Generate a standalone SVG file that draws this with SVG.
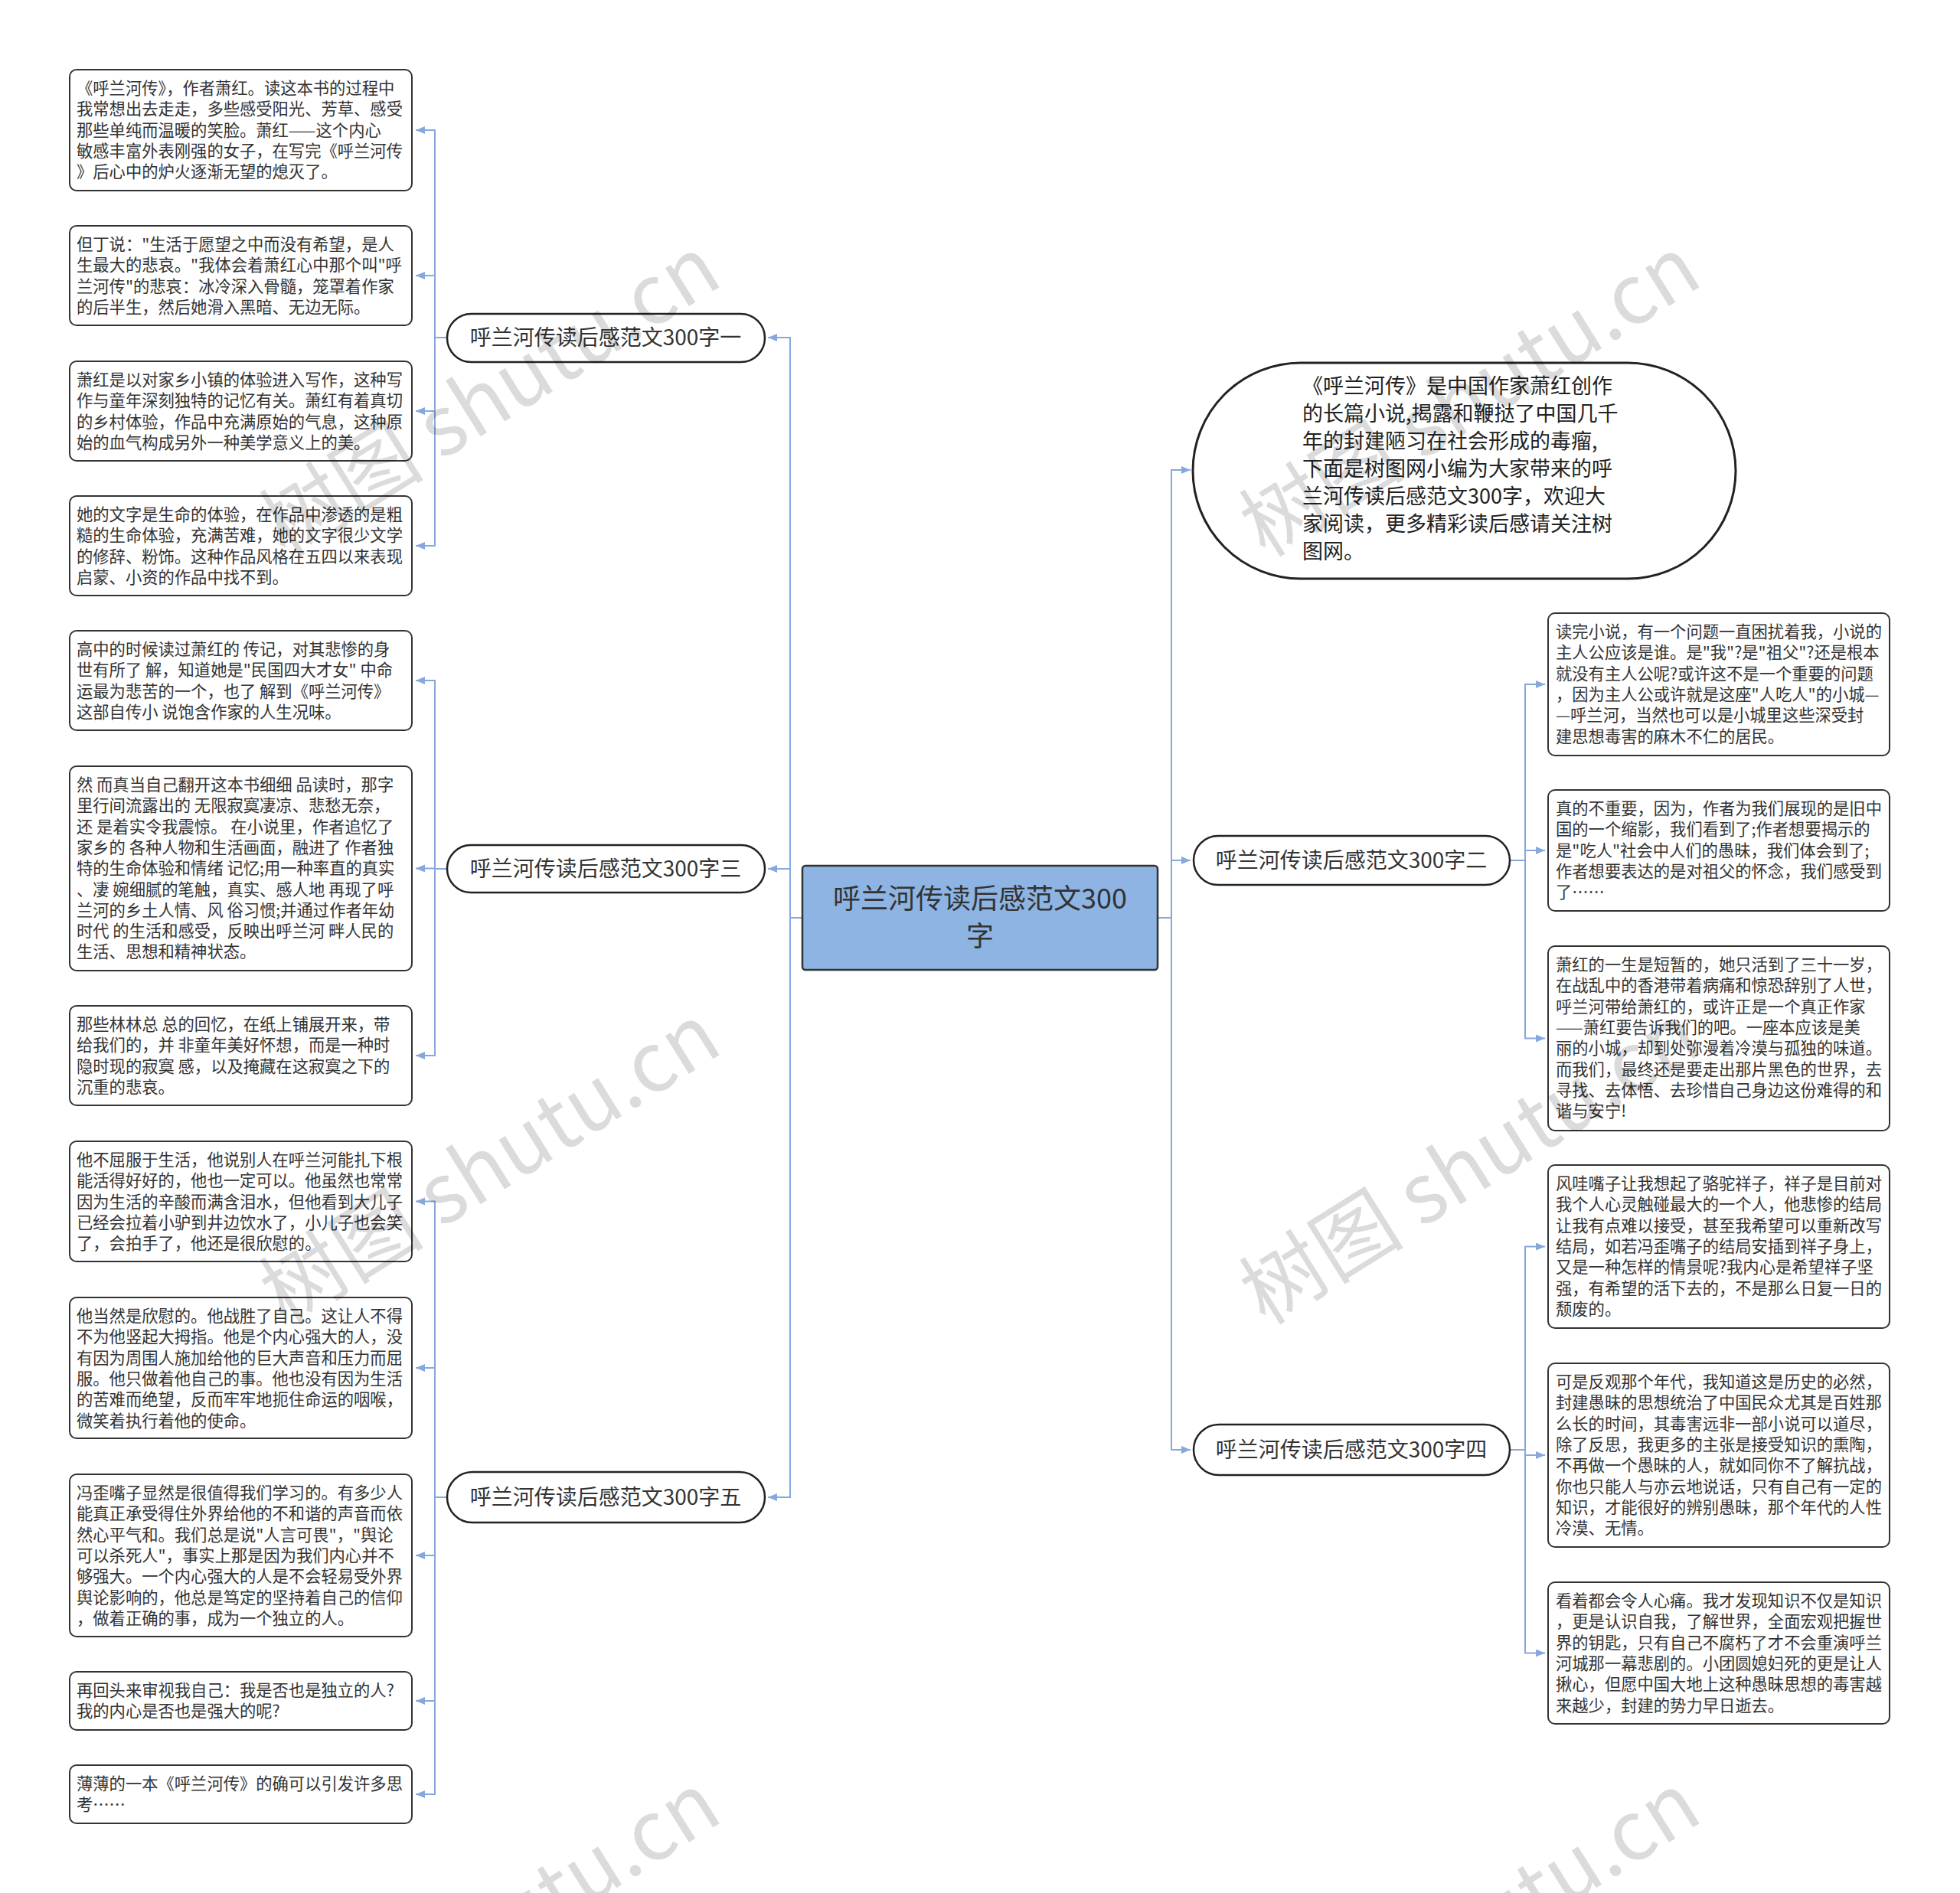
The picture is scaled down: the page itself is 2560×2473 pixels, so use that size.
<svg xmlns="http://www.w3.org/2000/svg" width="2560" height="2473" viewBox="0 0 2560 2473">
<style>
.box{fill:#fff;stroke:#333;stroke-width:2}
.t{font-family:"Noto Sans CJK SC","Liberation Sans",sans-serif;font-size:21.3px;fill:#333}
.br{fill:#fff;stroke:#222;stroke-width:2.5}
.bt{font-family:"Noto Sans CJK SC","Liberation Sans",sans-serif;font-size:28px;fill:#333;text-anchor:middle}
.c{fill:none;stroke:#86a8dc;stroke-width:2;marker-end:url(#ah)}
.wm{font-family:"Noto Sans CJK SC","Liberation Sans",sans-serif;font-size:108px;fill:#000;fill-opacity:0.14;text-anchor:middle}
</style>
<defs>
<marker id="ah" markerUnits="userSpaceOnUse" markerWidth="14" markerHeight="12" refX="12" refY="5" orient="auto">
<path d="M0,0 L12,5 L0,10 z" fill="#86a8dc"/>
</marker>
</defs>
<rect width="2560" height="2473" fill="#fff"/>
<g id="connectors">
<path class="c" d="M1048,1199 H1032 V441 H1003"/>
<path class="c" d="M1048,1199 H1032 V1135 H1003"/>
<path class="c" d="M1048,1199 H1032 V1956 H1003"/>
<path class="c" d="M1512,1199 H1530 V614 H1555"/>
<path class="c" d="M1512,1199 H1530 V1124 H1555"/>
<path class="c" d="M1512,1199 H1530 V1894 H1555"/>
<path class="c" d="M584,441 H568 V170 H543"/>
<path class="c" d="M584,441 H568 V360 H543"/>
<path class="c" d="M584,441 H568 V537 H543"/>
<path class="c" d="M584,441 H568 V713 H543"/>
<path class="c" d="M584,1135 H568 V889 H543"/>
<path class="c" d="M584,1135 H568 V1134.5 H543"/>
<path class="c" d="M584,1135 H568 V1379 H543"/>
<path class="c" d="M584,1956 H568 V1569.5 H543"/>
<path class="c" d="M584,1956 H568 V1787 H543"/>
<path class="c" d="M584,1956 H568 V2032 H543"/>
<path class="c" d="M584,1956 H568 V2222 H543"/>
<path class="c" d="M584,1956 H568 V2344 H543"/>
<path class="c" d="M1972,1124 H1992 V894 H2018"/>
<path class="c" d="M1972,1124 H1992 V1111 H2018"/>
<path class="c" d="M1972,1124 H1992 V1356.5 H2018"/>
<path class="c" d="M1972,1894 H1992 V1628.5 H2018"/>
<path class="c" d="M1972,1894 H1992 V1901 H2018"/>
<path class="c" d="M1972,1894 H1992 V2159.5 H2018"/>
</g>
<g id="center">
<rect x="1048" y="1131" width="464" height="136" rx="4" fill="#8db4e2" stroke="#333" stroke-width="2.5"/>
<text x="1280" y="1187" font-family="Noto Sans CJK SC, sans-serif" font-size="36" fill="#333" text-anchor="middle">呼兰河传读后感范文300</text>
<text x="1280" y="1236" font-family="Noto Sans CJK SC, sans-serif" font-size="36" fill="#333" text-anchor="middle">字</text>
</g>
<g id="branch1"><rect class="br" x="584" y="410" width="415" height="63" rx="31.5"/><text class="bt" x="791" y="451">呼兰河传读后感范文300字一</text></g>
<g id="branch3"><rect class="br" x="584" y="1104" width="415" height="62" rx="31"/><text class="bt" x="791" y="1145">呼兰河传读后感范文300字三</text></g>
<g id="branch5"><rect class="br" x="584" y="1923" width="415" height="66" rx="33"/><text class="bt" x="791" y="1966">呼兰河传读后感范文300字五</text></g>
<g id="branch2"><rect class="br" x="1559" y="1092" width="413" height="64" rx="32"/><text class="bt" x="1765" y="1134">呼兰河传读后感范文300字二</text></g>
<g id="branch4"><rect class="br" x="1559" y="1861" width="413" height="66" rx="33"/><text class="bt" x="1765" y="1904">呼兰河传读后感范文300字四</text></g>
<g id="intro">
<rect x="1558" y="474" width="709" height="282" rx="141" fill="#fff" stroke="#222" stroke-width="3"/>
<text font-family="Noto Sans CJK SC, sans-serif" font-size="27" fill="#222">
<tspan x="1701" y="514">《呼兰河传》是中国作家萧红创作</tspan>
<tspan x="1701" y="550">的长篇小说,揭露和鞭挞了中国几千</tspan>
<tspan x="1701" y="586">年的封建陋习在社会形成的毒瘤,</tspan>
<tspan x="1701" y="622">下面是树图网小编为大家带来的呼</tspan>
<tspan x="1701" y="658">兰河传读后感范文300字，欢迎大</tspan>
<tspan x="1701" y="694">家阅读，更多精彩读后感请关注树</tspan>
<tspan x="1701" y="730">图网。</tspan>
</text>
</g>
<g id="L1"><rect class="box" x="91" y="91" width="447" height="158" rx="9"/>
<text class="t"><tspan x="100" y="123">《呼兰河传》，作者萧红。读这本书的过程中</tspan><tspan x="100" y="150.3">我常想出去走走，多些感受阳光、芳草、感受</tspan><tspan x="100" y="177.6">那些单纯而温暖的笑脸。萧红——这个内心</tspan><tspan x="100" y="204.9">敏感丰富外表刚强的女子，在写完《呼兰河传</tspan><tspan x="100" y="232.2">》后心中的炉火逐渐无望的熄灭了。</tspan></text></g>
<g id="L2"><rect class="box" x="91" y="295" width="447" height="130" rx="9"/>
<text class="t"><tspan x="100" y="327">但丁说："生活于愿望之中而没有希望，是人</tspan><tspan x="100" y="354.3">生最大的悲哀。"我体会着萧红心中那个叫"呼</tspan><tspan x="100" y="381.6">兰河传"的悲哀：冰冷深入骨髓，笼罩着作家</tspan><tspan x="100" y="408.9">的后半生，然后她滑入黑暗、无边无际。</tspan></text></g>
<g id="L3"><rect class="box" x="91" y="472" width="447" height="130" rx="9"/>
<text class="t"><tspan x="100" y="504">萧红是以对家乡小镇的体验进入写作，这种写</tspan><tspan x="100" y="531.3">作与童年深刻独特的记忆有关。萧红有着真切</tspan><tspan x="100" y="558.6">的乡村体验，作品中充满原始的气息，这种原</tspan><tspan x="100" y="585.9">始的血气构成另外一种美学意义上的美。</tspan></text></g>
<g id="L4"><rect class="box" x="91" y="648" width="447" height="130" rx="9"/>
<text class="t"><tspan x="100" y="680">她的文字是生命的体验，在作品中渗透的是粗</tspan><tspan x="100" y="707.3">糙的生命体验，充满苦难，她的文字很少文学</tspan><tspan x="100" y="734.6">的修辞、粉饰。这种作品风格在五四以来表现</tspan><tspan x="100" y="761.9">启蒙、小资的作品中找不到。</tspan></text></g>
<g id="L5"><rect class="box" x="91" y="824" width="447" height="130" rx="9"/>
<text class="t"><tspan x="100" y="856">高中的时候读过萧红的 传记，对其悲惨的身</tspan><tspan x="100" y="883.3">世有所了 解，知道她是"民国四大才女" 中命</tspan><tspan x="100" y="910.6">运最为悲苦的一个，也了 解到《呼兰河传》</tspan><tspan x="100" y="937.9">这部自传小 说饱含作家的人生况味。</tspan></text></g>
<g id="L6"><rect class="box" x="91" y="1001" width="447" height="267" rx="9"/>
<text class="t"><tspan x="100" y="1033">然 而真当自己翻开这本书细细 品读时，那字</tspan><tspan x="100" y="1060.3">里行间流露出的 无限寂寞凄凉、悲愁无奈，</tspan><tspan x="100" y="1087.6">还 是着实令我震惊。 在小说里，作者追忆了</tspan><tspan x="100" y="1114.9">家乡的 各种人物和生活画面，融进了 作者独</tspan><tspan x="100" y="1142.2">特的生命体验和情绪 记忆;用一种率直的真实</tspan><tspan x="100" y="1169.5">、凄 婉细腻的笔触，真实、感人地 再现了呼</tspan><tspan x="100" y="1196.8">兰河的乡土人情、风 俗习惯;并通过作者年幼</tspan><tspan x="100" y="1224.1">时代 的生活和感受，反映出呼兰河 畔人民的</tspan><tspan x="100" y="1251.4">生活、思想和精神状态。</tspan></text></g>
<g id="L7"><rect class="box" x="91" y="1314" width="447" height="130" rx="9"/>
<text class="t"><tspan x="100" y="1346">那些林林总 总的回忆，在纸上铺展开来，带</tspan><tspan x="100" y="1373.3">给我们的，并 非童年美好怀想，而是一种时</tspan><tspan x="100" y="1400.6">隐时现的寂寞 感，以及掩藏在这寂寞之下的</tspan><tspan x="100" y="1427.9">沉重的悲哀。</tspan></text></g>
<g id="L8"><rect class="box" x="91" y="1491" width="447" height="157" rx="9"/>
<text class="t"><tspan x="100" y="1523">他不屈服于生活，他说别人在呼兰河能扎下根</tspan><tspan x="100" y="1550.3">能活得好好的，他也一定可以。他虽然也常常</tspan><tspan x="100" y="1577.6">因为生活的辛酸而满含泪水，但他看到大儿子</tspan><tspan x="100" y="1604.9">已经会拉着小驴到井边饮水了，小儿子也会笑</tspan><tspan x="100" y="1632.2">了，会拍手了，他还是很欣慰的。</tspan></text></g>
<g id="L9"><rect class="box" x="91" y="1695" width="447" height="184" rx="9"/>
<text class="t"><tspan x="100" y="1727">他当然是欣慰的。他战胜了自己。这让人不得</tspan><tspan x="100" y="1754.3">不为他竖起大拇指。他是个内心强大的人，没</tspan><tspan x="100" y="1781.6">有因为周围人施加给他的巨大声音和压力而屈</tspan><tspan x="100" y="1808.9">服。他只做着他自己的事。他也没有因为生活</tspan><tspan x="100" y="1836.2">的苦难而绝望，反而牢牢地扼住命运的咽喉，</tspan><tspan x="100" y="1863.5">微笑着执行着他的使命。</tspan></text></g>
<g id="L10"><rect class="box" x="91" y="1926" width="447" height="212" rx="9"/>
<text class="t"><tspan x="100" y="1958">冯歪嘴子显然是很值得我们学习的。有多少人</tspan><tspan x="100" y="1985.3">能真正承受得住外界给他的不和谐的声音而依</tspan><tspan x="100" y="2012.6">然心平气和。我们总是说"人言可畏"，"舆论</tspan><tspan x="100" y="2039.9">可以杀死人"，事实上那是因为我们内心并不</tspan><tspan x="100" y="2067.2">够强大。一个内心强大的人是不会轻易受外界</tspan><tspan x="100" y="2094.5">舆论影响的，他总是笃定的坚持着自己的信仰</tspan><tspan x="100" y="2121.8">，做着正确的事，成为一个独立的人。</tspan></text></g>
<g id="L11"><rect class="box" x="91" y="2184" width="447" height="76" rx="9"/>
<text class="t"><tspan x="100" y="2216">再回头来审视我自己：我是否也是独立的人?</tspan><tspan x="100" y="2243.3">我的内心是否也是强大的呢?</tspan></text></g>
<g id="L12"><rect class="box" x="91" y="2306" width="447" height="76" rx="9"/>
<text class="t"><tspan x="100" y="2338">薄薄的一本《呼兰河传》的确可以引发许多思</tspan><tspan x="100" y="2365.3">考……</tspan></text></g>
<g id="R1"><rect class="box" x="2022" y="801" width="446" height="186" rx="9"/>
<text class="t"><tspan x="2032" y="833">读完小说，有一个问题一直困扰着我，小说的</tspan><tspan x="2032" y="860.3">主人公应该是谁。是"我"?是"祖父"?还是根本</tspan><tspan x="2032" y="887.6">就没有主人公呢?或许这不是一个重要的问题</tspan><tspan x="2032" y="914.9">，因为主人公或许就是这座"人吃人"的小城—</tspan><tspan x="2032" y="942.2">—呼兰河，当然也可以是小城里这些深受封</tspan><tspan x="2032" y="969.5">建思想毒害的麻木不仁的居民。</tspan></text></g>
<g id="R2"><rect class="box" x="2022" y="1032" width="446" height="158" rx="9"/>
<text class="t"><tspan x="2032" y="1064">真的不重要，因为，作者为我们展现的是旧中</tspan><tspan x="2032" y="1091.3">国的一个缩影，我们看到了;作者想要揭示的</tspan><tspan x="2032" y="1118.6">是"吃人"社会中人们的愚昧，我们体会到了;</tspan><tspan x="2032" y="1145.9">作者想要表达的是对祖父的怀念，我们感受到</tspan><tspan x="2032" y="1173.2">了……</tspan></text></g>
<g id="R3"><rect class="box" x="2022" y="1236" width="446" height="241" rx="9"/>
<text class="t"><tspan x="2032" y="1268">萧红的一生是短暂的，她只活到了三十一岁，</tspan><tspan x="2032" y="1295.3">在战乱中的香港带着病痛和惊恐辞别了人世，</tspan><tspan x="2032" y="1322.6">呼兰河带给萧红的，或许正是一个真正作家</tspan><tspan x="2032" y="1349.9">——萧红要告诉我们的吧。一座本应该是美</tspan><tspan x="2032" y="1377.2">丽的小城，却到处弥漫着冷漠与孤独的味道。</tspan><tspan x="2032" y="1404.5">而我们，最终还是要走出那片黑色的世界，去</tspan><tspan x="2032" y="1431.8">寻找、去体悟、去珍惜自己身边这份难得的和</tspan><tspan x="2032" y="1459.1">谐与安宁!</tspan></text></g>
<g id="R4"><rect class="box" x="2022" y="1522" width="446" height="213" rx="9"/>
<text class="t"><tspan x="2032" y="1554">风哇嘴子让我想起了骆驼祥子，祥子是目前对</tspan><tspan x="2032" y="1581.3">我个人心灵触碰最大的一个人，他悲惨的结局</tspan><tspan x="2032" y="1608.6">让我有点难以接受，甚至我希望可以重新改写</tspan><tspan x="2032" y="1635.9">结局，如若冯歪嘴子的结局安插到祥子身上，</tspan><tspan x="2032" y="1663.2">又是一种怎样的情景呢?我内心是希望祥子坚</tspan><tspan x="2032" y="1690.5">强，有希望的活下去的，不是那么日复一日的</tspan><tspan x="2032" y="1717.8">颓废的。</tspan></text></g>
<g id="R5"><rect class="box" x="2022" y="1781" width="446" height="240" rx="9"/>
<text class="t"><tspan x="2032" y="1813">可是反观那个年代，我知道这是历史的必然，</tspan><tspan x="2032" y="1840.3">封建愚昧的思想统治了中国民众尤其是百姓那</tspan><tspan x="2032" y="1867.6">么长的时间，其毒害远非一部小说可以道尽，</tspan><tspan x="2032" y="1894.9">除了反思，我更多的主张是接受知识的熏陶，</tspan><tspan x="2032" y="1922.2">不再做一个愚昧的人，就如同你不了解抗战，</tspan><tspan x="2032" y="1949.5">你也只能人与亦云地说话，只有自己有一定的</tspan><tspan x="2032" y="1976.8">知识，才能很好的辨别愚昧，那个年代的人性</tspan><tspan x="2032" y="2004.1">冷漠、无情。</tspan></text></g>
<g id="R6"><rect class="box" x="2022" y="2067" width="446" height="185" rx="9"/>
<text class="t"><tspan x="2032" y="2099">看着都会令人心痛。我才发现知识不仅是知识</tspan><tspan x="2032" y="2126.3">，更是认识自我，了解世界，全面宏观把握世</tspan><tspan x="2032" y="2153.6">界的钥匙，只有自己不腐朽了才不会重演呼兰</tspan><tspan x="2032" y="2180.9">河城那一幕悲剧的。小团圆媳妇死的更是让人</tspan><tspan x="2032" y="2208.2">揪心，但愿中国大地上这种愚昧思想的毒害越</tspan><tspan x="2032" y="2235.5">来越少，封建的势力早日逝去。</tspan></text></g>
<g id="watermark">
<text class="wm" transform="translate(660 550) rotate(-32)">树图 shutu.cn</text>
<text class="wm" transform="translate(1940 550) rotate(-32)">树图 shutu.cn</text>
<text class="wm" transform="translate(660 1553) rotate(-32)">树图 shutu.cn</text>
<text class="wm" transform="translate(1940 1553) rotate(-32)">树图 shutu.cn</text>
<text class="wm" transform="translate(660 2557) rotate(-32)">树图 shutu.cn</text>
<text class="wm" transform="translate(1940 2557) rotate(-32)">树图 shutu.cn</text>
</g>
</svg>
